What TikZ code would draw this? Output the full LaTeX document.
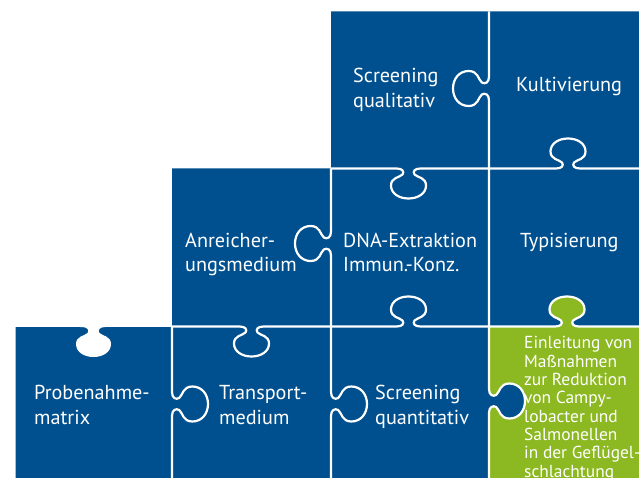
\documentclass[tikz,border=0pt]{standalone}
\usepackage{fontspec}
\setmainfont{PT Sans}
\definecolor{puzzleblue}{HTML}{00508F}
\definecolor{puzzlegreen}{HTML}{8CB821}

\tikzset{
  % local frame of one tab: u runs along the edge, v into the bulge
  kt/.style={shift={(\kx,\ky)},rotate=\kr,yscale=\ks},
  knob/.style n args={4}{/utils/exec={\def\kx{#1}\def\ky{#2}\def\kr{#3}\def\ks{#4}},
    insert path={ -- ([kt]-12,0) .. controls ([kt]-6,0) and ([kt]-4,3) .. ([kt]-6,6)
      .. controls ([kt]-9,9) and ([kt]-17.5,9) .. ([kt]-17.5,17)
      .. controls ([kt]-17.5,25) and ([kt]-9.5,30) .. ([kt]0,30)
      .. controls ([kt]9.5,30) and ([kt]17.5,25) .. ([kt]17.5,17)
      .. controls ([kt]17.5,9) and ([kt]9,9) .. ([kt]6,6)
      .. controls ([kt]4,3) and ([kt]6,0) .. ([kt]12,0)}},
  seam/.style={draw=white, line width=2.2pt, line join=round},
  % multi-line labels are placed by the baseline of their last line
  label/.style={text=white, inner sep=0pt, anchor=base west, align=left,
    font=\fontsize{20.2}{24.5}\selectfont},
  small/.style={text=white, inner sep=0pt, anchor=base west, align=left,
    font=\fontsize{17.4}{18.3}\selectfont},
}

\begin{document}
\begin{tikzpicture}[x=1pt, y=-1pt]
  \useasboundingbox (0,0) rectangle (639,478);
  \clip (0,0) rectangle (639,478);

  % staircase of blue pieces
  \fill[puzzleblue] (15.5,327) -- (172,327) -- (172,168.5) -- (331,168.5)
    -- (331,11.5) -- (640,11.5) -- (640,479) -- (15.5,479) -- cycle;

  % open socket on top of the first piece
  \fill[white] (80,327) [knob={93.5}{327}{0}{1}] -- cycle;

  % green piece with its tab and socket
  \fill[puzzlegreen] (489,326.5) [knob={567}{326.5}{0}{-1}] -- (640,326.5)
    -- (640,479) -- (489,479) [knob={489}{401}{90}{1.2}] -- cycle;

  % seams between the pieces
  \draw[seam] (489,11.5) [knob={489}{88.5}{-90}{1.2}] [knob={489}{401}{-90}{-1.2}] -- (489,479);
  \draw[seam] (331,168.5) [knob={331}{243.5}{-90}{1.2}] [knob={331}{404}{-90}{-1.2}] -- (331,479);
  \draw[seam] (172,326.5) [knob={172}{404}{-90}{-1.2}] -- (172,479);
  \draw[seam] (331,168.5) [knob={408.5}{168.5}{0}{1}] [knob={568}{168.5}{0}{-1}] -- (640,168.5);
  \draw[seam] (172,326.5) [knob={251.5}{326.5}{0}{1}] [knob={408.5}{326.5}{0}{-1}]
    [knob={567}{326.5}{0}{-1}] -- (640,326.5);

  % labels
  \node[label] (squal) at (353,107.5) {Screening\\qualitativ};
  \node[label] (kult) at (516,91.5) {Kultivierung};
  \node[label] (anr) at (185,271.7) {Anreicher-\\ungsmedium};
  \node[label] (dna) at (343,271.7) {DNA-Extraktion\\Immun.-Konz.};
  \node[label] (typ) at (520,247.5) {Typisierung};
  \node[label] (probe) at (34,424.3) {Probenahme-\\matrix};
  \node[label] (trans) at (219,424.3) {Transport-\\medium};
  \node[label] (squant) at (375,424) {Screening\\quantitativ};
  \node[small] (einl) at (524,477) {Einleitung von\\Maßnahmen\\zur Reduktion\\von Campy-\\lobacter und\\Salmonellen\\in der Geflügel-\\schlachtung};
\end{tikzpicture}
\end{document}
